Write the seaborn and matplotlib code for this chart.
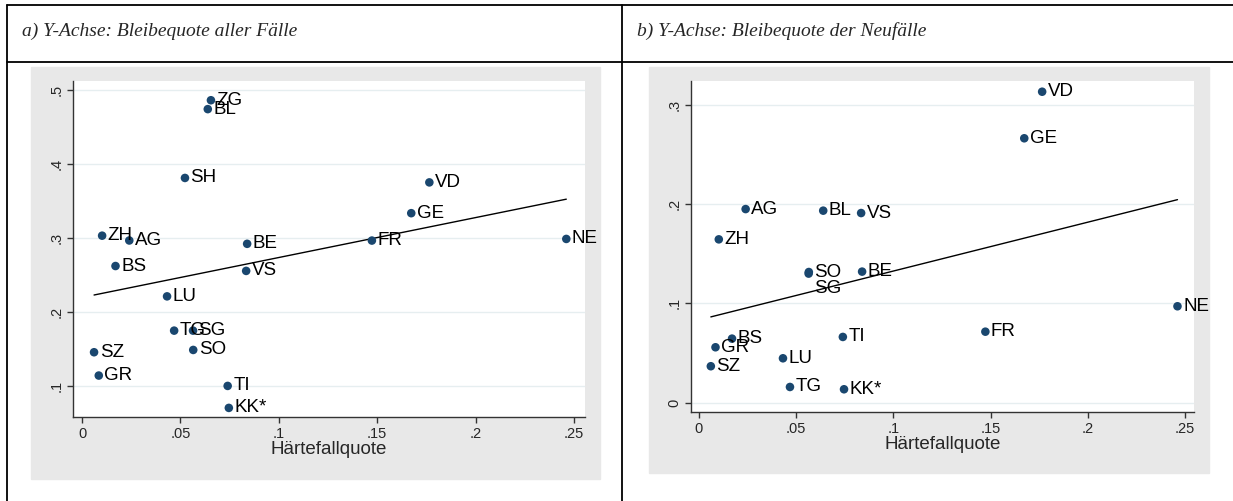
import numpy as np
import pandas as pd
import matplotlib
matplotlib.use('Agg')
import matplotlib.pyplot as plt
import seaborn as sns
from matplotlib.lines import Line2D
from matplotlib.patches import Rectangle

# Kantone und Werte
kantone = ['ZG', 'BL', 'SH', 'ZH', 'AG', 'BE', 'BS', 'VS', 'LU', 'TG',
           'SG', 'SO', 'SZ', 'GR', 'TI', 'KK*', 'VD', 'GE', 'FR', 'NE']
haertefallquote = [0.0655, 0.0639, 0.0523, 0.0102, 0.0240, 0.0839, 0.0170, 0.0834, 0.0432, 0.0468,
                   0.0564, 0.0565, 0.0061, 0.0085, 0.0740, 0.0746, 0.1765, 0.1673, 0.1473, 0.2461]
bleibe_alle = [0.486, 0.474, 0.381, 0.303, 0.2965, 0.292, 0.262, 0.2554, 0.221, 0.1747,
               0.1747, 0.1486, 0.1455, 0.114, 0.100, 0.0703, 0.375, 0.3334, 0.2964, 0.2986]
bleibe_neu = [np.nan, 0.1934, np.nan, 0.1645, 0.195, 0.132, 0.0645, 0.191, 0.0447, 0.0158,
              0.130, 0.1316, 0.0367, 0.0558, 0.0662, 0.0135, 0.3132, 0.2663, 0.0715, 0.0971]

titel_a = 'a) Y-Achse: Bleibequote aller Fälle'
titel_b = 'b) Y-Achse: Bleibequote der Neufälle'
x_label = 'Härtefallquote'
x_ticks = [0, 0.05, 0.1, 0.15, 0.2, 0.25]
x_ticklabels = ['0', '.05', '.1', '.15', '.2', '.25']
y_ticks_a = [0.1, 0.2, 0.3, 0.4, 0.5]
y_ticklabels_a = ['.1', '.2', '.3', '.4', '.5']
y_ticks_b = [0, 0.1, 0.2, 0.3]
y_ticklabels_b = ['0', '.1', '.2', '.3']

df = pd.DataFrame({'kanton': kantone, 'x': haertefallquote,
                   'alle': bleibe_alle, 'neu': bleibe_neu})

sns.set_style('white')
plt.rcParams['font.family'] = ['Liberation Sans', 'DejaVu Sans']

navy = '#1a476f'
grau = '#e8e8e8'
gitter = '#e6eef0'

fig = plt.figure(figsize=(12.33, 5.01), dpi=100)
W, H = 1233, 501


def box(l, t, r, b):
    return [l / W, 1 - b / H, (r - l) / W, (b - t) / H]


# Tabellenlinien
for (x0, y0, x1, y1) in [(7, 5, 1233, 5), (7, 61.5, 1233, 61.5), (7, 5, 7, 501), (622, 5, 622, 501)]:
    fig.add_artist(Line2D([x0 / W, x1 / W], [1 - y0 / H, 1 - y1 / H], color='black', lw=1.3,
                          transform=fig.transFigure))

fig.text(22 / W, 1 - 31 / H, titel_a, family='Liberation Serif', style='italic', fontsize=14,
         va='center', ha='left')
fig.text(637 / W, 1 - 31 / H, titel_b, family='Liberation Serif', style='italic', fontsize=14,
         va='center', ha='left')

# graue Hintergruende
for l, t, r, b in [(31, 67, 600, 479), (649, 67, 1209, 473)]:
    bx = box(l, t, r, b)
    fig.add_artist(Rectangle(bx[:2], bx[2], bx[3], transform=fig.transFigure, color=grau, zorder=0))

ax_a = fig.add_axes(box(73, 81, 585, 417))
ax_b = fig.add_axes(box(691, 81, 1194, 412))

panels = [
    (ax_a, 'alle', (-0.0046, 0.2556), (0.058, 0.512), y_ticks_a, y_ticklabels_a),
    (ax_b, 'neu', (-0.0041, 0.2546), (-0.0094, 0.324), y_ticks_b, y_ticklabels_b),
]

for ax, col, xlim, ylim, yt, ytl in panels:
    d = df.dropna(subset=[col])
    ax.set_facecolor('white')
    for v in yt:
        ax.axhline(v, color=gitter, lw=1, zorder=0)
    sns.regplot(data=d, x='x', y=col, ax=ax, ci=None, scatter=False, truncate=True,
                line_kws=dict(color='black', lw=1))
    sns.scatterplot(data=d, x='x', y=col, ax=ax, color=navy, s=38, edgecolor='none', zorder=3)
    for _, r in d.iterrows():
        if col == 'neu' and r['kanton'] == 'SG':
            off = (4, -11)
        else:
            off = (4, 0)
        ax.annotate(r['kanton'], (r['x'], r[col]), xytext=off, textcoords='offset points',
                    fontsize=13.5, va='center', ha='left', color='black', zorder=4)
    ax.set_xlim(*xlim)
    ax.set_ylim(*ylim)
    ax.set_xticks(x_ticks)
    ax.set_xticklabels(x_ticklabels, fontsize=10.5)
    ax.set_yticks(yt)
    ax.set_yticklabels(ytl, fontsize=10.5, rotation=90, va='center')
    ax.tick_params(axis='both', direction='out', length=4, width=1, color='#333333', pad=3, left=True, bottom=True)
    ax.set_xlabel(x_label, fontsize=13.5, labelpad=0)
    ax.set_ylabel('')
    for s in ['top', 'right']:
        ax.spines[s].set_visible(False)
    for s in ['left', 'bottom']:
        ax.spines[s].set_color('#333333')
        ax.spines[s].set_linewidth(1)

fig.savefig('out.png', dpi=100)
